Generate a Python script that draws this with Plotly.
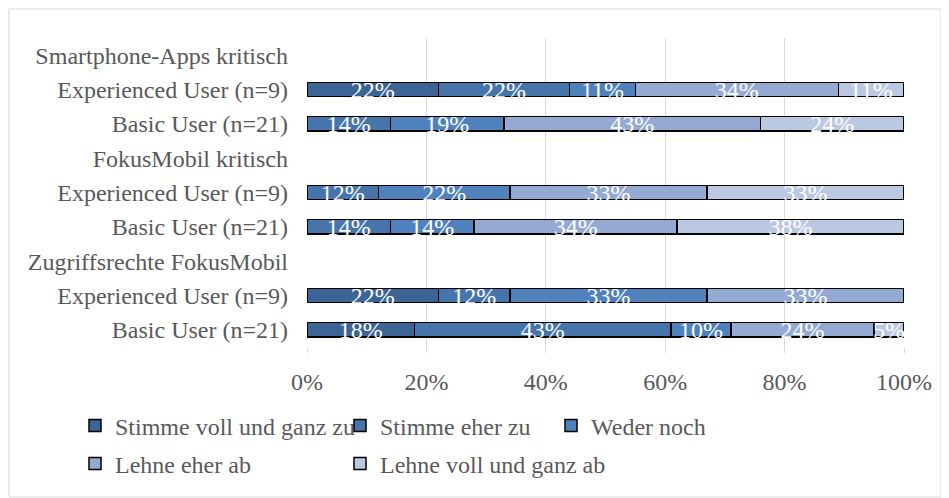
import plotly.graph_objects as go

# Rows from top to bottom
row_labels = [
    "Smartphone-Apps kritisch",
    "Experienced User (n=9)",
    "Basic User (n=21)",
    "FokusMobil kritisch",
    "Experienced User (n=9)",
    "Basic User (n=21)",
    "Zugriffsrechte FokusMobil",
    "Experienced User (n=9)",
    "Basic User (n=21)",
]

series_names = [
    "Stimme voll und ganz zu",
    "Stimme eher zu",
    "Weder noch",
    "Lehne eher ab",
    "Lehne voll und ganz ab",
]

voll_zu = [None, 22, None, None, None, None, None, 22, 18]
eher_zu = [None, 22, 14, None, 12, 14, None, 12, 43]
weder_noch = [None, 11, 19, None, 22, 14, None, 33, 10]
eher_ab = [None, 34, 43, None, 33, 34, None, 33, 24]
voll_ab = [None, 11, 24, None, 33, 38, None, None, 5]

x_ticks = [0, 20, 40, 60, 80, 100]

series_values = [voll_zu, eher_zu, weder_noch, eher_ab, voll_ab]
colors = ["#3c6494", "#4675ab", "#4f82bd", "#94aad3", "#bac8e2"]

FONT = "Liberation Serif, Times New Roman, serif"
GREY = "#595959"

# page has an 8px body margin; work in page coordinates and convert
OFF = 8
W, H = 949 - OFF, 498 - OFF
PX0, PX1, PY0, PY1 = 307, 904, 38, 347  # plot area in page px
L, T = PX0 - OFF, PY0 - OFF
R, B = W - (PX1 - OFF), H - (PY1 - OFF)
pw, ph = PX1 - PX0, PY1 - PY0

def px_to_paper_x(px):
    return (px - PX0) / pw

def px_to_paper_y(py):
    return (PY1 - py) / ph

ypos = list(range(len(row_labels)))

# legend placement (text start px, row center px) in page coords
legend_pos = [(115, 426), (380, 426), (591, 426), (115, 464), (380, 464)]

fig = go.Figure()
for i, (name, vals, col) in enumerate(zip(series_names, series_values, colors)):
    lg = "legend" if i == 0 else f"legend{i+1}"
    fig.add_trace(go.Bar(
        name=name,
        y=ypos,
        x=vals,
        orientation="h",
        width=0.42,
        marker=dict(color=col, line=dict(color="#000000", width=1.5)),
        text=[f"{v}%" if v is not None else "" for v in vals],
        textposition="inside",
        insidetextanchor="middle",
        textangle=0,
        constraintext="none",
        textfont=dict(family=FONT, size=24, color="#ffffff"),
        cliponaxis=False,
        legend=lg,
        hoverinfo="skip",
    ))

legend_layouts = {}
for i, (tx, ty) in enumerate(legend_pos):
    key = "legend" if i == 0 else f"legend{i+1}"
    legend_layouts[key] = dict(
        x=px_to_paper_x(tx - 40),
        y=px_to_paper_y(ty),
        xanchor="left",
        yanchor="middle",
        orientation="h",
        font=dict(family=FONT, size=24, color=GREY),
        bgcolor="rgba(0,0,0,0)",
        borderwidth=0,
        tracegroupgap=0,
    )

fig.update_layout(
    width=W,
    height=H,
    margin=dict(l=L, r=R, t=T, b=B, pad=0),
    barmode="stack",
    plot_bgcolor="#ffffff",
    paper_bgcolor="#ffffff",
    font=dict(family=FONT, size=24, color=GREY),
    showlegend=True,
    xaxis=dict(
        range=[0, 100],
        tickvals=x_ticks,
        ticktext=[f"{v}%" for v in x_ticks],
        showgrid=True,
        gridcolor="#d9d9d9",
        gridwidth=1.3,
        zeroline=False,
        showline=False,
        ticks="outside",
        ticklen=5,
        tickcolor="#d9d9d9",
        tickwidth=1.3,
        ticklabelstandoff=8,
        tickfont=dict(family=FONT, size=24, color=GREY),
        fixedrange=True,
    ),
    yaxis=dict(
        range=[len(row_labels) - 0.5, -0.5],
        tickvals=ypos,
        ticktext=row_labels,
        showgrid=False,
        zeroline=False,
        showline=False,
        ticks="",
        ticklabelstandoff=18,
        tickfont=dict(family=FONT, size=24, color=GREY),
        fixedrange=True,
    ),
    shapes=[dict(
        type="rect", xref="paper", yref="paper",
        x0=px_to_paper_x(9), x1=px_to_paper_x(941),
        y0=px_to_paper_y(497), y1=px_to_paper_y(9),
        line=dict(color="#d9d9d9", width=1),
        fillcolor="rgba(0,0,0,0)", layer="below",
    )],
    **legend_layouts,
)

fig.write_html("out.html")
